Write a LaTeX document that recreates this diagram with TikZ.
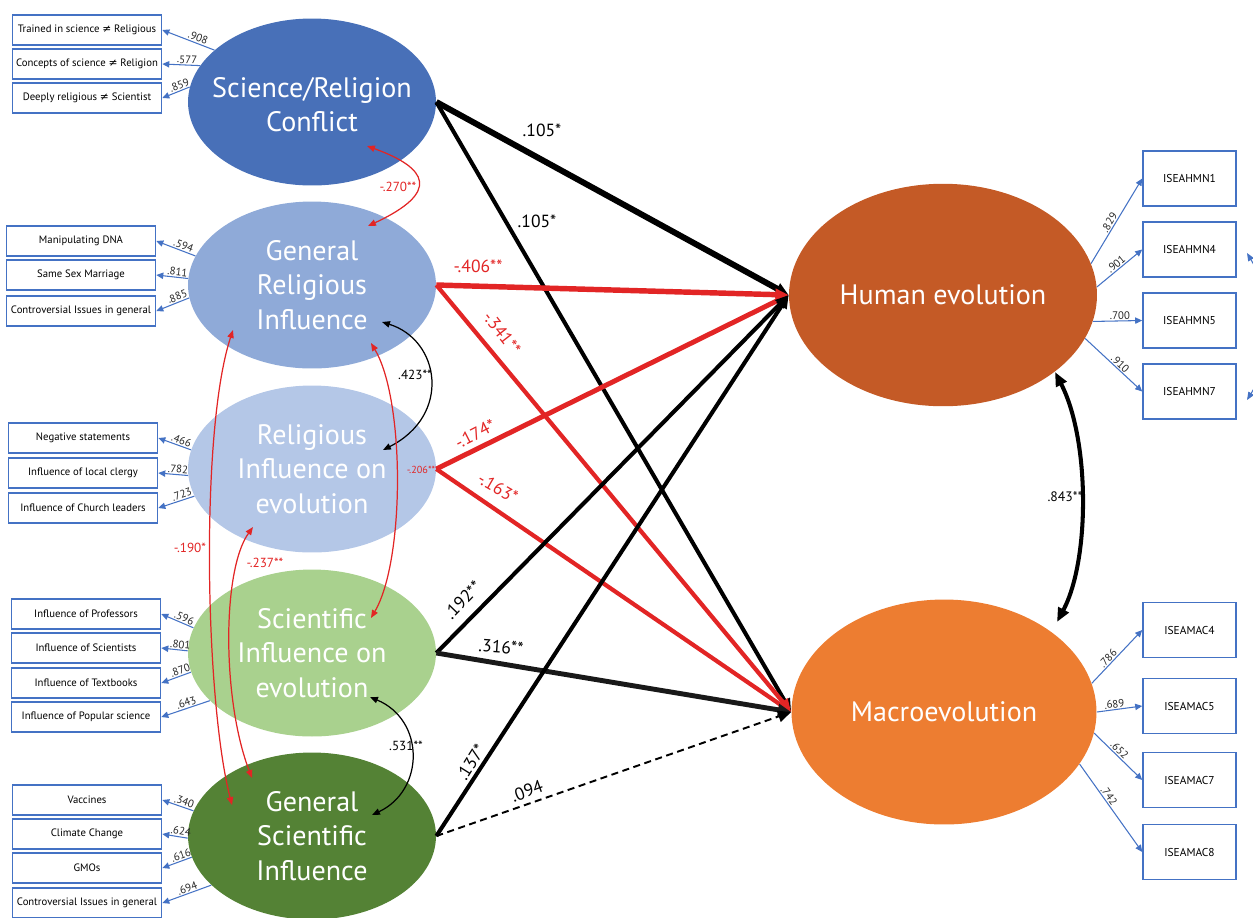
\documentclass[tikz,border=0pt]{standalone}
\usepackage{fontspec}
\setmainfont{PT Sans}
\newfontfamily\symfont{DejaVu Sans}
\usetikzlibrary{shapes.geometric,arrows.meta}

\definecolor{srcblue}{RGB}{72,112,184}
\definecolor{griblue}{RGB}{143,170,216}
\definecolor{rieblue}{RGB}{180,199,231}
\definecolor{siegreen}{RGB}{169,209,142}
\definecolor{gsigreen}{RGB}{84,130,53}
\definecolor{humbrown}{RGB}{196,90,38}
\definecolor{macorange}{RGB}{237,125,49}
\definecolor{pathred}{RGB}{226,37,37}
\definecolor{itemblue}{RGB}{68,114,196}

\newcommand{\neqsym}{{\symfont ≠}}

\tikzset{
  latent/.style={ellipse, inner xsep=-15pt, inner ysep=0pt, text=white, align=center,
    minimum width=4.96cm, minimum height=3.34cm,
    font=\fontsize{16}{19.6}\selectfont},
  outcome/.style={latent, minimum width=6.16cm, minimum height=4.45cm},
  lbox/.style={draw=itemblue, line width=0.9pt, minimum width=2.98cm,
    minimum height=0.6cm, inner sep=0pt, font=\fontsize{6.1}{7}\selectfont},
  rbox/.style={draw=itemblue, line width=0.9pt, minimum width=1.86cm,
    minimum height=1.1cm, inner sep=0pt, font=\fontsize{6.5}{7}\selectfont},
  load/.style={draw=itemblue, line width=0.6pt, -{Triangle[length=4pt,width=3.6pt]}},
  lnum/.style={sloped, above, inner sep=0.6pt, text=black!85,
    font=\fontsize{6.2}{7}\selectfont},
  effect/.style={line width=#1, -{Triangle[length=7.5pt,width=6.5pt]}},
  cov/.style={line width=0.7pt,
    {Triangle[length=4.5pt,width=3.6pt]}-{Triangle[length=4.5pt,width=3.6pt]}},
  plbl/.style={font=\fontsize{10}{12}\selectfont, inner sep=0pt},
  clbl/.style={font=\fontsize{7.5}{8}\selectfont, inner sep=0pt}
}

\begin{document}
\begin{tikzpicture}[x=0.02cm, y=-0.02cm]
  \useasboundingbox (0,0) rectangle (1253,917);
  \clip (0,0) rectangle (1253,917);

  % latent variables
  \node[latent, fill=srcblue] (src) at (312,102)
    {\raisebox{-7.5pt}[0pt][0pt]{\begin{tabular}{@{}c@{}}Science/Religion\\Conflict\end{tabular}}};
  \node[latent, fill=griblue] (gri) at (312,285) {General\\Religious\\Influence};
  \node[latent, fill=rieblue] (rie) at (312,469) {Religious\\Influence on\\evolution};
  \node[latent, fill=siegreen] (sie) at (312,653) {Scientific\\Influence on\\evolution};
  \node[latent, fill=gsigreen] (gsi) at (312,836) {General\\Scientific\\Influence};
  \node[outcome, fill=humbrown] (hum) at (943,295) {Human evolution};
  \node[outcome, fill=macorange, minimum width=6.1cm, minimum height=4.5cm] (mac) at (944,712) {Macroevolution};

  % indicators left
  \node[lbox] (src1) at (87,30) {Trained in science \neqsym{} Religious};
  \node[lbox] (src2) at (87,64) {Concepts of science \neqsym{} Religion};
  \node[lbox] (src3) at (87,98) {Deeply religious \neqsym{} Scientist};
  \node[lbox] (gri1) at (81,241) {Manipulating DNA};
  \node[lbox] (gri2) at (81,275) {Same Sex Marriage};
  \node[lbox] (gri3) at (81,311) {Controversial Issues in general};
  \node[lbox] (rie1) at (83,438) {Negative statements};
  \node[lbox] (rie2) at (83,473) {Influence of local clergy};
  \node[lbox] (rie3) at (83,508) {Influence of Church leaders};
  \node[lbox] (sie1) at (86,614) {Influence of Professors};
  \node[lbox] (sie2) at (86,648) {Influence of Scientists};
  \node[lbox] (sie3) at (86,683) {Influence of Textbooks};
  \node[lbox] (sie4) at (86,717) {Influence of Popular science};
  \node[lbox] (gsi1) at (87,800) {Vaccines};
  \node[lbox] (gsi2) at (87,834) {Climate Change};
  \node[lbox] (gsi3) at (87,868) {GMOs};
  \node[lbox] (gsi4) at (87,903) {Controversial Issues in general};

  % indicators right
  \node[rbox] (hmn1) at (1189.5,178.5) {ISEAHMN1};
  \node[rbox] (hmn4) at (1189.5,249.5) {ISEAHMN4};
  \node[rbox] (hmn5) at (1189.5,320.5) {ISEAHMN5};
  \node[rbox] (hmn7) at (1189.5,391.5) {ISEAHMN7};
  \node[rbox] (mac4) at (1189.5,630) {ISEAMAC4};
  \node[rbox] (mac5) at (1189.5,706) {ISEAMAC5};
  \node[rbox] (mac7) at (1189.5,780) {ISEAMAC7};
  \node[rbox] (mac8) at (1189.5,852) {ISEAMAC8};

  % loadings
  \draw[load] (src.152) -- (src1.east) node[lnum, pos=.35] {.908};
  \draw[load] (src.162) -- (src2.east) node[lnum, pos=.35] {.577};
  \draw[load] (src.173) -- (src3.east) node[lnum, pos=.3] {.859};
  \draw[load] (gri.166) -- (gri1.east) node[lnum, pos=.35] {.594};
  \draw[load] (gri.177) -- (gri2.east) node[lnum, pos=.35] {.811};
  \draw[load] (gri.186) -- (gri3.east) node[lnum, pos=.3] {.885};
  \draw[load] (rie.171) -- (rie1.east) node[lnum, pos=.35] {.466};
  \draw[load] (rie.183) -- (rie2.east) node[lnum, pos=.35] {.782};
  \draw[load] (rie.193) -- (rie3.east) node[lnum, pos=.3] {.723};
  \draw[load] (sie.168) -- (sie1.east) node[lnum, pos=.35] {.596};
  \draw[load] (sie.179) -- (sie2.east) node[lnum, pos=.3] {.801};
  \draw[load] (sie.189) -- (sie3.east) node[lnum, pos=.3] {.870};
  \draw[load] (sie.205) -- (sie4.east) node[lnum, pos=.45] {.643};
  \draw[load] (gsi.168) -- (gsi1.east) node[lnum, pos=.35] {.340};
  \draw[load] (gsi.181) -- (gsi2.east) node[lnum, pos=.3] {.624};
  \draw[load] (gsi.190) -- (gsi3.east) node[lnum, pos=.3] {.616};
  \draw[load] (gsi.206) -- (gsi4.east) node[lnum, pos=.45] {.694};
  \draw[load] (hum.12) -- (hmn1.west) node[lnum, pos=.45] {.829};
  \draw[load] (hum.3) -- (hmn4.west) node[lnum, pos=.5] {.901};
  \draw[load] (hum.-10) -- (hmn5.west) node[lnum, pos=.55] {.700};
  \draw[load] (hum.-17) -- (hmn7.west) node[lnum, pos=.55] {.910};
  \draw[load] (mac.11) -- (mac4.west) node[lnum, pos=.4] {.786};
  \draw[load] (mac.0) -- (mac5.west) node[lnum, pos=.4] {.689};
  \draw[load] (mac.-8) -- (mac7.west) node[lnum, pos=.45] {.652};
  \draw[load] (mac.-21) -- (mac8.west) node[lnum, pos=.4] {.742};

  % structural paths
  \draw[effect=3.4pt]  (src.east) -- (hum.west);
  \draw[effect=2.3pt]  (src.east) -- (mac.west);
  \draw[effect=3.1pt, pathred]  (gri.east) -- (hum.west);
  \draw[effect=2.4pt, pathred]  (gri.east) -- (mac.west);
  \draw[effect=2.8pt, pathred]  (rie.east) -- (hum.west);
  \draw[effect=2.4pt, pathred]  (rie.east) -- (mac.west);
  \draw[effect=2.3pt]  (sie.east) -- (hum.west);
  \draw[effect=2.8pt, black!90]  (sie.east) -- (mac.west);
  \draw[effect=2.3pt]  (gsi.east) -- (hum.west);
  \draw[effect=1.1pt, dash pattern=on 4pt off 2.6pt]  (gsi.east) -- (mac.west);

  \node[plbl] (e1) at (542,130) {.105*};
  \node[plbl] (e2) at (537,221) {.105*};
  \node[plbl, pathred] (e3) at (478,266) {-.406**};
  \node[plbl, pathred, rotate=-52] (e4) at (502,333) {-.341**};
  \node[plbl, pathred, rotate=27] (e5) at (475,434) {-.174*};
  \node[plbl, pathred, rotate=-30] (e6) at (498,488) {-.163*};
  \node[plbl, rotate=46] (e7) at (463,600) {.192**};
  \node[plbl, rotate=-4] (e8) at (501,647) {.316**};
  \node[plbl, rotate=58] (e9) at (471,762) {.137*};
  \node[plbl, rotate=20] (e10) at (527,791) {.094};

  % covariances
  \draw[cov, pathred] ([shift={(55,44)}]src.center) .. controls (428,168) and (441,192) .. ([shift={(56,-59)}]gri.center);
  \draw[cov] ([shift={(70,37)}]gri.center) .. controls (440,340) and (452,415) .. ([shift={(71,-19)}]rie.center);
  \draw[cov, pathred] ([shift={(59,58)}]gri.center) .. controls (405,400) and (405,560) .. ([shift={(59,-35)}]sie.center);
  \draw[cov, pathred] ([shift={(-79,45)}]gri.center) .. controls (200,430) and (205,700) .. ([shift={(-80,-31)}]gsi.center);
  \draw[cov, pathred] ([shift={(-59,58)}]rie.center) .. controls (222,570) and (222,700) .. ([shift={(-60,-58)}]gsi.center);
  \draw[cov] ([shift={(58,44)}]sie.center) .. controls (425,720) and (425,790) .. ([shift={(60,-21)}]gsi.center);
  \draw[cov, line width=2.3pt, {Triangle[length=8pt,width=6.5pt]}-{Triangle[length=8pt,width=6.5pt]}]
    ([shift={(112,77)}]hum.center) .. controls (1090,440) and (1090,560) .. ([shift={(113,-90)}]mac.center);
  \draw[cov, itemblue, line width=0.6pt] ([shift={(57.5,3.5)}]hmn4.center) .. controls (1275,300) and (1275,355) .. ([shift={(57.5,8.5)}]hmn7.center);

  \node[clbl, pathred] (k1) at (398,187) {-.270**};
  \node[clbl] (k2) at (415,375) {.423**};
  \node[clbl, pathred] (k3) at (190,548) {-.190*};
  \node[clbl, pathred] (k4) at (265,563) {-.237**};
  \node[clbl] (k5) at (406,746) {.531**};
  \node[clbl, font=\fontsize{7.8}{8}\selectfont] (k6) at (1065,497) {.843**};
  \node[clbl, pathred, font=\fontsize{5.8}{6}\selectfont] (k7) at (421,470) {-.206**};
\end{tikzpicture}
\end{document}
